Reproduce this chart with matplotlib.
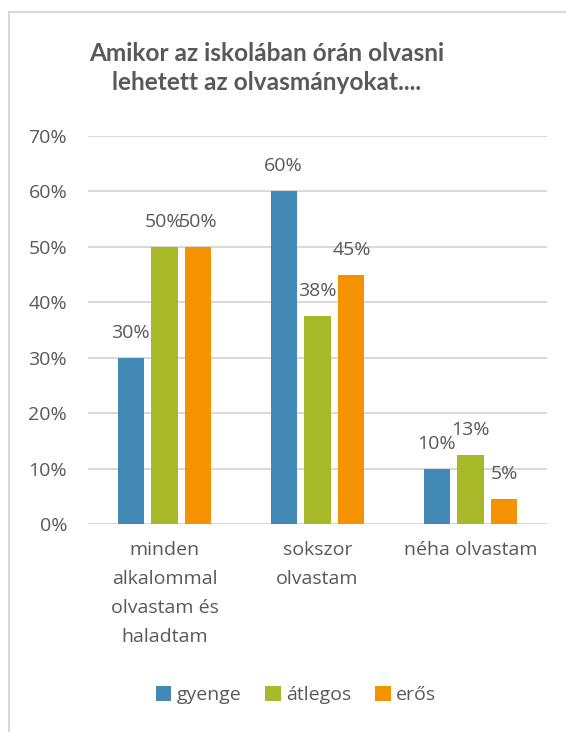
import numpy as np
import matplotlib
matplotlib.use("Agg")
import matplotlib.pyplot as plt
from matplotlib.lines import Line2D
from matplotlib.ticker import MultipleLocator, FuncFormatter

plt.rcParams['font.family'] = ['Open Sans', 'DejaVu Sans']

categories = ["minden\nalkalommal\nolvastam és\nhaladtam", "sokszor\nolvastam", "néha olvastam"]
series = ["gyenge", "átlegos", "erős"]
gyenge = [0.30, 0.60, 0.10]
atlegos = [0.50, 0.375, 0.125]
eros = [0.50, 0.45, 0.045]
colors = ['#4289b5', '#a7b828', '#f59200']

text_color = '#595959'


def pct(v):
    # round half up, like a spreadsheet does
    return f"{int(v * 100 + 0.5)}%"


fig = plt.figure(figsize=(5.66, 7.32), dpi=100)
ax = fig.add_axes([88 / 566, 1 - 524 / 732, 459 / 566, 388 / 732])

x = np.arange(len(categories))
width = 0.17
step = 0.222
for k, (vals, col) in enumerate(zip([gyenge, atlegos, eros], colors)):
    pos = x + (k - 1) * step
    ax.bar(pos, vals, width, color=col, label=series[k], zorder=3)
    for px, v in zip(pos, vals):
        ax.annotate(pct(v), (px, v), xytext=(0, 18), textcoords='offset points',
                    ha='center', va='center', fontsize=14, color=text_color)

ax.set_xlim(-0.5, 2.5)
ax.set_ylim(0, 0.7)
ax.yaxis.set_major_locator(MultipleLocator(0.1))
ax.yaxis.set_major_formatter(FuncFormatter(lambda v, p: f"{v * 100:.0f}%"))
ax.grid(axis='y', color='#d9d9d9', linewidth=1.5, zorder=0)
for s in ax.spines.values():
    s.set_visible(False)
ax.tick_params(axis='y', length=0, pad=15, labelsize=14, labelcolor=text_color)
ax.set_xticks(x)
ax.set_xticklabels(categories, fontsize=14, color=text_color, va='top', linespacing=1.8)
ax.tick_params(axis='x', length=0, pad=12)

fig.text(267 / 566, 1 - 68 / 732, "Amikor az iskolában órán olvasni\nlehetett az olvasmányokat....",
         ha='center', va='center', fontsize=17.6, fontweight='bold', color=text_color,
         linespacing=1.35, family=['Lato', 'DejaVu Sans'])

fig.legend(loc='center', bbox_to_anchor=(296 / 566, 1 - 695 / 732), ncol=3, frameon=False,
           fontsize=14, labelcolor=text_color, handlelength=0.8, handleheight=0.8,
           handletextpad=0.3, columnspacing=1.2)

# chart frame (left and top edges)
fig.add_artist(Line2D([9 / 566, 9 / 566], [0, 1 - 12 / 732], color='#d9d9d9', linewidth=1.5))
fig.add_artist(Line2D([9 / 566, 1], [1 - 12 / 732, 1 - 12 / 732], color='#d9d9d9', linewidth=1.5))

fig.savefig("out.png", dpi=100)
